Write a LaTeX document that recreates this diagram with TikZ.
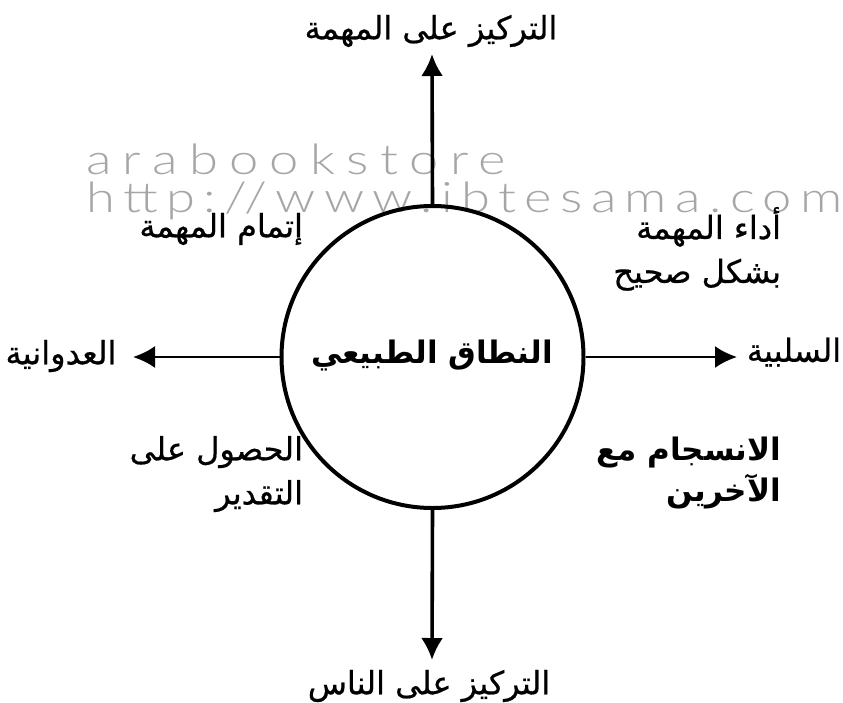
\documentclass[tikz,border=0pt]{standalone}
\usepackage{fontspec}
\usetikzlibrary{arrows.meta}
\TeXXeTstate=1
\newfontfamily\arabicfont[Script=Arabic,FakeBold=0.6]{DejaVu Sans}
\newfontfamily\arabicbold[Script=Arabic]{DejaVu Sans Bold}
\newfontfamily\wmfonta[LetterSpace=27,FakeStretch=1.25]{Lato Light}
\newfontfamily\wmfontb[LetterSpace=20,FakeStretch=1.25]{Lato Light}
\newcommand{\ar}[1]{\beginR #1\endR}
\tikzset{
  x=1pt,y=-1pt,
  lab/.style={font=\arabicfont\fontsize{32}{44}\selectfont,text=black,inner sep=0pt,outer sep=0pt,align=right},
  labb/.style={lab,font=\arabicbold\fontsize{31}{41}\selectfont},
  wma/.style={font=\wmfonta\fontsize{42}{42}\selectfont,text=black!35,inner sep=0pt,anchor=base west},
  wmb/.style={font=\wmfontb\fontsize{42}{42}\selectfont,text=black!35,inner sep=0pt,anchor=base west},
  conn/.style={draw=black,line width=3.6pt,-{Latex[length=22pt,width=22pt]}},
  connh/.style={draw=black,line width=2.6pt,-{Latex[length=22pt,width=22pt]}}
}
\begin{document}
\begin{tikzpicture}
\useasboundingbox (0,0) rectangle (843,702);
\node[wma] (w1) at (86,174) {arabookstore};
\node[wmb] (w2) at (86,212) {http://www.ibtesama.com};
\node[circle,draw=black,line width=4pt,minimum size=302pt,inner sep=0pt] (c) at (432.5,357) {};
\node[lab] (top) at (431,31) {\ar{التركيز على المهمة}};
\node[lab] (bot) at (429,686) {\ar{التركيز على الناس}};
\node[lab] (left) at (61,356) {\ar{العدوانية}};
\node[lab] (right) at (794,352) {\ar{السلبية}};
\node[labb] (mid) at (432,355) {\ar{النطاق الطبيعي}};
\node[lab,anchor=east] (tl) at (303,229) {\ar{إتمام المهمة}};
\node[lab,anchor=north east] (tr) at (781,207) {\ar{أداء المهمة}\\\ar{بشكل صحيح}};
\node[lab,anchor=north east] (bl) at (303,436) {\ar{الحصول على}\\\ar{التقدير}};
\node[labb,anchor=north east] (br) at (781,437) {\ar{الانسجام مع}\\\ar{الآخرين}};
\coordinate (tu) at (432,54);
\coordinate (td) at (432,660);
\coordinate (tl2) at (133,357);
\coordinate (tr2) at (737,357);
\draw[conn] (c.north) -- (tu);
\draw[conn] (c.south) -- (td);
\draw[connh] (c.west) -- (tl2);
\draw[connh] (c.east) -- (tr2);
\end{tikzpicture}
\end{document}
